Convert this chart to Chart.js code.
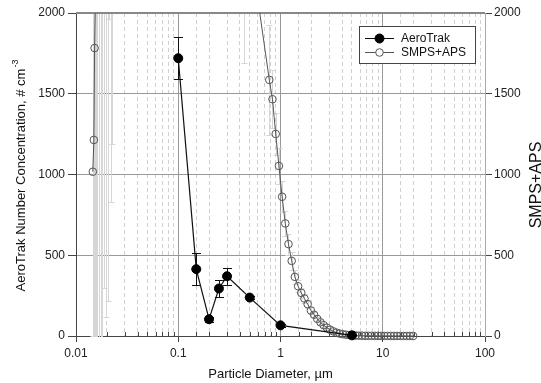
<!DOCTYPE html>
<html>
<head>
<meta charset="utf-8">
<script src="https://cdn.jsdelivr.net/npm/chart.js@4.4.1/dist/chart.umd.min.js"></script>
<style>
  html, body { margin: 0; padding: 0; background: #fff; }
  #wrap { width: 541px; height: 383px; }
</style>
</head>
<body>
<div id="wrap"><canvas id="chart" width="541" height="383"></canvas></div>
<script>
// AeroTrak channels: diameter (um), number concentration (# cm-3), error
const aeroDiam = [0.1, 0.15, 0.2, 0.25, 0.3, 0.5, 1.0, 5.0];
const aeroConc = [1720, 414, 104, 294, 370, 238, 66, 4];
const aeroErr = [130, 100, 15, 50, 52, 8, 8, 3];

// SMPS + APS merged spectrum (values above 2000 run off the top of the plot)
const smpsDiam = [
  0.0146, 0.01495, 0.0152, 0.0156, 0.0161, 0.0167, 0.0174, 0.0181, 0.0188, 0.0197, 0.0205, 0.0211, 0.0220, 0.0227,
  0.026, 0.034, 0.045, 0.06, 0.08, 0.11, 0.15, 0.21, 0.30, 0.4376, 0.58,
  0.777, 0.835, 0.898, 0.965, 1.037, 1.114, 1.197, 1.286, 1.382, 1.486, 1.596, 1.715, 1.843, 1.981,
  2.129, 2.288, 2.458, 2.642, 2.839, 3.051, 3.278, 3.523, 3.786, 4.068, 4.371, 4.698, 5.048, 5.425,
  5.829, 6.264, 6.732, 7.234, 7.774, 8.354, 8.977, 9.647, 10.37, 11.14, 11.97, 12.86, 13.82, 14.86,
  15.96, 17.15, 18.43, 19.81
];
const smpsConc = [
  1017, 1214, 1783, 2200, 3000, 3600, 4100, 4500, 4800, 5000, 5100, 5200, 5200, 5300,
  5400, 6000, 6500, 7000, 7500, 7000, 6000, 5000, 4000, 3000, 2150,
  1586, 1466, 1251, 1053, 862, 697, 569, 465, 366, 308, 267, 232, 197, 158,
  132, 106, 85, 67, 52, 39, 29, 21, 15, 11, 8, 6, 4, 3,
  2, 2, 1, 1, 1, 1, 1, 0.5, 0.5, 0.5, 0.5, 0.3, 0.3, 0.3,
  0.2, 0.2, 0.2, 0.1
];
const smpsErr = [
  1020, 1220, 1790, 2210, 3010, 3610, 4110, 4510, 4500, 4884, 4883, 3240, 4370, 4112,
  1500, 1500, 1500, 1500, 1500, 1500, 1500, 1500, 1200, 1310, 100,
  340, 180, 130, 110, 95, 80, 65, 55, 45, 38, 33, 29, 25, 20,
  17, 14, 11, 9, 7, 5, 4, 3, 2, 2, 1, 1, 1, 1,
  1, 1, 0, 0, 0, 0, 0, 0, 0, 0, 0, 0, 0, 0,
  0, 0, 0, 0
];

const xTickLabels = [0.01, 0.1, 1, 10, 100];
const yTicks = [0, 500, 1000, 1500, 2000];
const seriesNames = ["AeroTrak", "SMPS+APS"];

const FONT = '"Liberation Sans", Arial, Helvetica, sans-serif';
const CLEAR = "rgba(0,0,0,0)";

function isDecade(v) {
  const l = Math.log10(v);
  return Math.abs(l - Math.round(l)) < 1e-6;
}

function toPoints(xs, ys) {
  return xs.map((x, i) => ({ x, y: ys[i] }));
}

// vertical error bars, drawn under the markers and clipped to the plot
const errorBars = {
  id: "errorBars",
  beforeDatasetsDraw(chart) {
    const { ctx, chartArea: a } = chart;
    ctx.save();
    ctx.beginPath();
    ctx.rect(a.left, a.top, a.right - a.left, a.bottom - a.top + 1);
    ctx.clip();
    chart.data.datasets.forEach((ds, i) => {
      const meta = chart.getDatasetMeta(i);
      const yScale = chart.scales[meta.yAxisID];
      ctx.strokeStyle = ds.errColor;
      ctx.lineWidth = 1;
      meta.data.forEach((pt, j) => {
        const e = ds.errors[j];
        if (!e) return;
        const v = ds.data[j].y;
        const x = Math.round(pt.x) + 0.5;
        const hi = Math.round(yScale.getPixelForValue(v + e)) + 0.5;
        const lo = Math.round(yScale.getPixelForValue(v - e)) + 0.5;
        ctx.beginPath();
        ctx.moveTo(x, hi); ctx.lineTo(x, lo);
        ctx.moveTo(x - ds.capHalf, hi); ctx.lineTo(x + ds.capHalf, hi);
        ctx.moveTo(x - ds.capHalf, lo); ctx.lineTo(x + ds.capHalf, lo);
        ctx.stroke();
      });
    });
    ctx.restore();
  }
};

// top frame line and small inner minor ticks on the bottom axis
const frame = {
  id: "frame",
  beforeDatasetsDraw(chart) {
    const { ctx, chartArea: a, scales } = chart;
    ctx.save();
    ctx.strokeStyle = "#444";
    ctx.lineWidth = 1;
    scales.x.ticks.forEach((t) => {
      if (isDecade(t.value)) return;
      const x = Math.round(scales.x.getPixelForValue(t.value)) + 0.5;
      ctx.beginPath();
      ctx.moveTo(x, a.bottom);
      ctx.lineTo(x, a.bottom - 4);
      ctx.stroke();
    });
    ctx.strokeStyle = "#888";
    ctx.lineWidth = 2;
    ctx.beginPath();
    ctx.moveTo(a.left, a.top);
    ctx.lineTo(a.right, a.top);
    ctx.stroke();
    ctx.restore();
  }
};

// axis titles and the boxed legend in the upper right
const annotations = {
  id: "annotations",
  afterDraw(chart) {
    const { ctx, chartArea: a } = chart;
    ctx.save();
    ctx.fillStyle = "#111";
    ctx.font = "13px " + FONT;
    ctx.textBaseline = "middle";

    ctx.textAlign = "center";
    ctx.fillText("Particle Diameter, \u00b5m", (a.left + a.right) / 2 - 10, 374);

    // left title with superscript
    const main = "AeroTrak Number Concentration, # cm";
    const sup = "-3";
    ctx.font = "13px " + FONT;
    const wMain = ctx.measureText(main).width;
    ctx.font = "9px " + FONT;
    const wSup = ctx.measureText(sup).width;
    ctx.save();
    ctx.translate(21, 176);
    ctx.rotate(-Math.PI / 2);
    ctx.textAlign = "left";
    const start = -(wMain + wSup) / 2;
    ctx.font = "13px " + FONT;
    ctx.fillText(main, start, 0);
    ctx.font = "9px " + FONT;
    ctx.fillText(sup, start + wMain + 1, -5);
    ctx.restore();

    // right title, running off the canvas edge as in the source figure
    ctx.save();
    ctx.translate(537, 185);
    ctx.rotate(-Math.PI / 2);
    ctx.textAlign = "center";
    ctx.font = "16px " + FONT;
    ctx.fillText("SMPS+APS", 0, 0);
    ctx.restore();

    // legend
    const lx = 359.5, ly = 26.5, lw = 116, lh = 37;
    ctx.fillStyle = "#fff";
    ctx.fillRect(lx, ly, lw, lh);
    ctx.strokeStyle = "#444";
    ctx.lineWidth = 1;
    ctx.strokeRect(lx, ly, lw, lh);
    const rows = [38.5, 52.5];
    chart.data.datasets.forEach((ds, i) => {
      const y = rows[i];
      ctx.strokeStyle = ds.borderColor;
      ctx.lineWidth = 1;
      ctx.beginPath();
      ctx.moveTo(365, y);
      ctx.lineTo(394, y);
      ctx.stroke();
      ctx.beginPath();
      ctx.arc(379.5, y, ds.pointRadius, 0, Math.PI * 2);
      ctx.fillStyle = ds.pointBackgroundColor === CLEAR ? "#fff" : ds.pointBackgroundColor;
      ctx.fill();
      ctx.strokeStyle = ds.pointBorderColor;
      ctx.stroke();
      ctx.fillStyle = "#111";
      ctx.font = "12px " + FONT;
      ctx.textAlign = "left";
      ctx.fillText(seriesNames[i], 401, y);
    });
    ctx.restore();
  }
};

Chart.defaults.font.family = FONT;
Chart.defaults.font.size = 12;
Chart.defaults.color = "#222";

const plainNumber = (v) => String(v);

new Chart(document.getElementById("chart"), {
  type: "scatter",
  data: {
    datasets: [
      {
        label: seriesNames[0],
        data: toPoints(aeroDiam, aeroConc),
        errors: aeroErr,
        errColor: "#111",
        capHalf: 4.5,
        showLine: true,
        borderColor: "#111",
        borderWidth: 1.2,
        pointRadius: 4.5,
        pointBackgroundColor: "#000",
        pointBorderColor: "#000",
        pointBorderWidth: 1,
        yAxisID: "y",
        clip: { left: 8, right: 8, top: 0, bottom: 8 }
      },
      {
        label: seriesNames[1],
        data: toPoints(smpsDiam, smpsConc),
        errors: smpsErr,
        errColor: "#d6d6d6",
        capHalf: 3,
        showLine: true,
        borderColor: "#555",
        borderWidth: 1,
        pointRadius: 3.8,
        pointBackgroundColor: CLEAR,
        pointBorderColor: "#555",
        pointBorderWidth: 1,
        yAxisID: "y2",
        clip: { left: 8, right: 8, top: 0, bottom: 8 }
      }
    ]
  },
  options: {
    responsive: false,
    animation: false,
    events: [],
    devicePixelRatio: 1,
    layout: { padding: { top: 13, left: 0, right: 0, bottom: 0 } },
    plugins: {
      legend: { display: false },
      tooltip: { enabled: false }
    },
    scales: {
      x: {
        type: "logarithmic",
        position: "bottom",
        min: 0.01,
        max: 100,
        afterFit(scale) { scale.height = 47; },
        ticks: {
          autoSkip: false,
          maxRotation: 0,
          padding: 4,
          color: "#222",
          callback(value) {
            const hit = xTickLabels.find((t) => Math.abs(Math.log10(t) - Math.log10(value)) < 1e-6);
            return hit === undefined ? "" : String(hit);
          }
        },
        grid: {
          color: (c) => (c.tick && isDecade(c.tick.value) ? "#999" : "#d0d0d0"),
          lineWidth: 1,
          tickLength: 6,
          tickColor: (c) => (c.tick && isDecade(c.tick.value) ? "#444" : CLEAR)
        },
        border: {
          color: "#444",
          width: 1,
          dash: (c) => (c.tick && !isDecade(c.tick.value) ? [4, 3] : [])
        }
      },
      y: {
        type: "linear",
        position: "left",
        min: 0,
        max: 2000,
        afterBuildTicks(scale) { scale.ticks = yTicks.map((v) => ({ value: v })); },
        afterFit(scale) { scale.width = 76; },
        ticks: { padding: 3, color: "#222", callback: plainNumber },
        grid: {
          color: (c) => (c.tick && (c.tick.value === 0 || c.tick.value === 2000) ? CLEAR : "#999"),
          tickLength: 8,
          tickColor: "#444"
        },
        border: { color: "#444", width: 1 }
      },
      y2: {
        type: "linear",
        position: "right",
        min: 0,
        max: 2000,
        afterBuildTicks(scale) { scale.ticks = yTicks.map((v) => ({ value: v })); },
        afterFit(scale) { scale.width = 56; },
        ticks: { padding: 2, color: "#222", callback: plainNumber },
        grid: { drawOnChartArea: false, tickLength: 7, tickColor: "#444" },
        border: { color: "#aaa", width: 1 }
      }
    }
  },
  plugins: [errorBars, frame, annotations]
});
</script>
</body>
</html>
